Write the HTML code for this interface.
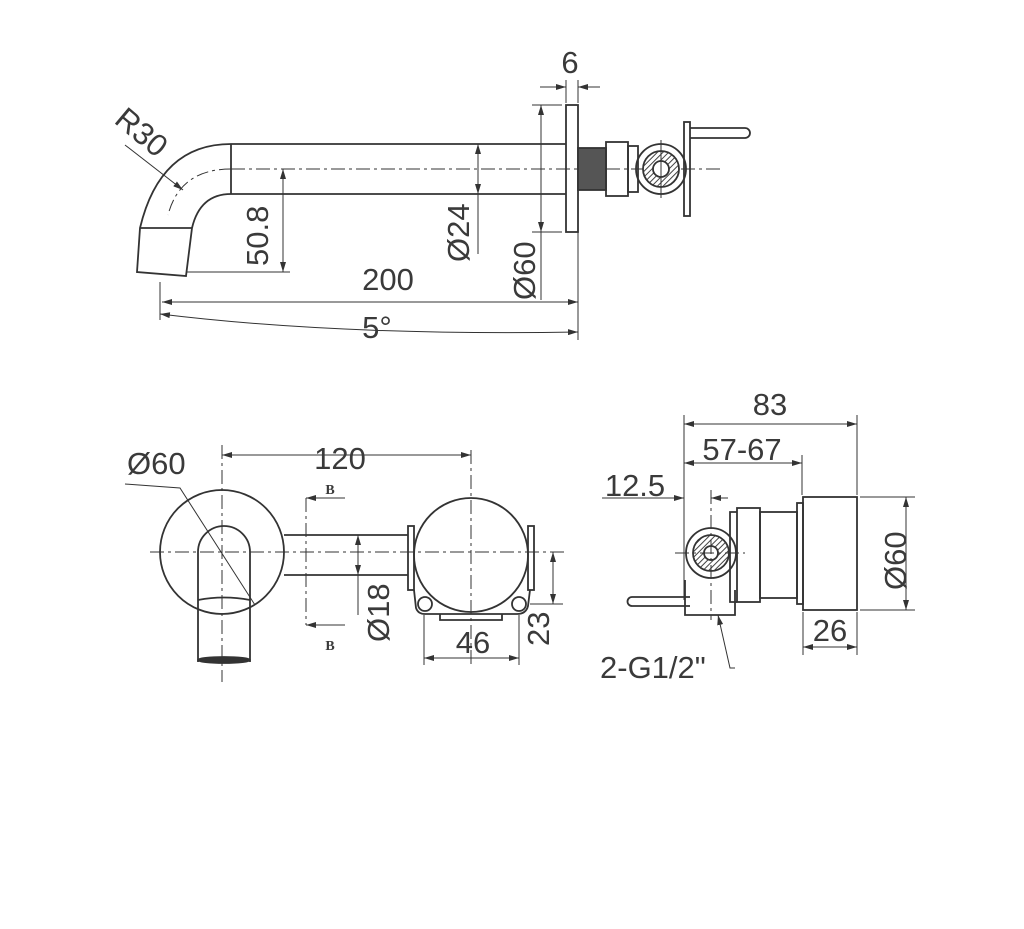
<!DOCTYPE html>
<html><head><style>html,body{margin:0;background:#fff}svg{display:block}text{font-family:"Liberation Sans",sans-serif;fill:#3a3a3a;font-size:31px}</style></head><body>
<svg width="1024" height="929" viewBox="0 0 1024 929" xmlns="http://www.w3.org/2000/svg">
<defs>
<marker id="a" viewBox="0 0 10 6" refX="10" refY="3" markerWidth="10" markerHeight="6" orient="auto-start-reverse" markerUnits="userSpaceOnUse"><path d="M0,0L10,3L0,6z" fill="#333"/></marker>
<pattern id="h" width="4" height="4" patternUnits="userSpaceOnUse" patternTransform="rotate(45)"><rect width="4" height="4" fill="#fff"/><line x1="0" y1="0" x2="0" y2="4" stroke="#444" stroke-width="2"/></pattern>
</defs>
<g fill="none" stroke="#333" stroke-width="1.8">
<path d="M566,144H231Q160,144 140,228L137,272L186,276L192,228Q200,194 231,194H566"/>
<line x1="231" y1="144" x2="231" y2="194"/>
<line x1="140" y1="228" x2="192" y2="228"/>
<path d="M231,169Q180,169 168,215" stroke-dasharray="12,4,3,4" stroke-width="1"/>
<line x1="231" y1="169" x2="720" y2="169" stroke-dasharray="14,4,3,4" stroke-width="1"/>
<rect x="566" y="105" width="12" height="127"/>
<rect x="578" y="148" width="28" height="42" fill="#555"/>
<rect x="606" y="142" width="22" height="54"/>
<rect x="628" y="146" width="10" height="46"/>
<circle cx="661" cy="169" r="25"/>
<circle cx="661" cy="169" r="18" fill="url(#h)"/>
<circle cx="661" cy="169" r="8" fill="#fff"/>
<line x1="661" y1="140" x2="661" y2="198" stroke-width="1"/>
<rect x="684" y="122" width="6" height="94"/>
<path d="M690,128H745A5,5 0 0 1 745,138H690"/>
<line x1="566" y1="80" x2="566" y2="103" stroke-width="1"/><line x1="578" y1="80" x2="578" y2="103" stroke-width="1"/>
<line x1="540" y1="87" x2="566" y2="87" marker-end="url(#a)" stroke-width="1"/><line x1="600" y1="87" x2="578" y2="87" marker-end="url(#a)" stroke-width="1"/>
<line x1="532" y1="105" x2="562" y2="105" stroke-width="1"/><line x1="532" y1="232" x2="562" y2="232" stroke-width="1"/>
<line x1="541" y1="105" x2="541" y2="300" stroke-width="1"/>
<line x1="541" y1="140" x2="541" y2="105" marker-end="url(#a)" stroke-width="1"/><line x1="541" y1="200" x2="541" y2="232" marker-end="url(#a)" stroke-width="1"/>
<line x1="478" y1="144" x2="478" y2="254" marker-start="url(#a)" stroke-width="1"/><line x1="478" y1="170" x2="478" y2="194" marker-end="url(#a)" stroke-width="1"/>
<line x1="283" y1="169" x2="283" y2="272" marker-start="url(#a)" marker-end="url(#a)" stroke-width="1"/>
<line x1="186" y1="272" x2="290" y2="272" stroke-width="1"/>
<line x1="578" y1="232" x2="578" y2="340" stroke-width="1"/>
<line x1="160" y1="282" x2="160" y2="320" stroke-width="1"/>
<line x1="162" y1="302" x2="578" y2="302" marker-start="url(#a)" marker-end="url(#a)" stroke-width="1"/>
<path d="M160,314Q340,336 578,332" marker-start="url(#a)" marker-end="url(#a)" stroke-width="1"/>
<line x1="125" y1="145" x2="183" y2="190" marker-end="url(#a)" stroke-width="1"/>
<circle cx="222" cy="552" r="62"/>
<path d="M198,662V552A26,26 0 0 1 250,552V662"/>
<ellipse cx="224" cy="660" rx="26" ry="3" fill="#333"/>
<path d="M198,600Q224,595 250,600"/>
<line x1="284" y1="535" x2="408" y2="535"/><line x1="284" y1="575" x2="408" y2="575"/>
<circle cx="471" cy="555" r="57"/>
<rect x="408" y="526" width="6" height="64"/><rect x="528" y="526" width="6" height="64"/>
<path d="M414,590L416,608Q418,614 425,614H517Q526,614 528,606L530,590"/>
<path d="M440,614V620H502V614"/>
<circle cx="425" cy="604" r="7"/><circle cx="519" cy="604" r="7"/>
<line x1="150" y1="552" x2="565" y2="552" stroke-dasharray="14,4,3,4" stroke-width="1"/>
<line x1="222" y1="445" x2="222" y2="682" stroke-dasharray="14,4,3,4" stroke-width="1"/>
<line x1="471" y1="450" x2="471" y2="665" stroke-dasharray="14,4,3,4" stroke-width="1"/>
<line x1="306" y1="498" x2="306" y2="625" stroke-dasharray="14,4,3,4" stroke-width="1"/>
<line x1="345" y1="498" x2="306" y2="498" marker-end="url(#a)" stroke-width="1"/><line x1="345" y1="625" x2="306" y2="625" marker-end="url(#a)" stroke-width="1"/>
<line x1="222" y1="455" x2="471" y2="455" marker-start="url(#a)" marker-end="url(#a)" stroke-width="1"/>
<path d="M125,484L180,488L255,605" stroke-width="1"/>
<line x1="358" y1="535" x2="358" y2="615" stroke-width="1"/>
<line x1="358" y1="560" x2="358" y2="535" marker-end="url(#a)" stroke-width="1"/><line x1="358" y1="555" x2="358" y2="575" marker-end="url(#a)" stroke-width="1"/>
<line x1="424" y1="615" x2="424" y2="665" stroke-width="1"/><line x1="519" y1="615" x2="519" y2="665" stroke-width="1"/>
<line x1="424" y1="658" x2="519" y2="658" marker-start="url(#a)" marker-end="url(#a)" stroke-width="1"/>
<line x1="530" y1="604" x2="563" y2="604" stroke-width="1"/>
<line x1="553" y1="552" x2="553" y2="604" marker-start="url(#a)" marker-end="url(#a)" stroke-width="1"/>
<rect x="803" y="497" width="54" height="113"/>
<rect x="797" y="503" width="6" height="101"/>
<rect x="760" y="512" width="37" height="86"/>
<rect x="737" y="508" width="23" height="94"/>
<path d="M737,512H730V602H737"/>
<path d="M685,580V615H735V590"/>
<circle cx="711" cy="553" r="25"/>
<circle cx="711" cy="553" r="18" fill="url(#h)"/>
<circle cx="711" cy="553" r="7" fill="#fff"/>
<line x1="675" y1="553" x2="745" y2="553" stroke-dasharray="14,4,3,4" stroke-width="1"/>
<line x1="711" y1="490" x2="711" y2="620" stroke-dasharray="14,4,3,4" stroke-width="1"/>
<path d="M690,597H632A4.5,4.5 0 0 0 632,606H690"/>
<line x1="684" y1="415" x2="684" y2="600" stroke-width="1"/><line x1="857" y1="415" x2="857" y2="495" stroke-width="1"/>
<line x1="802" y1="455" x2="802" y2="495" stroke-width="1"/>
<line x1="684" y1="424" x2="857" y2="424" marker-start="url(#a)" marker-end="url(#a)" stroke-width="1"/>
<line x1="684" y1="463" x2="802" y2="463" marker-start="url(#a)" marker-end="url(#a)" stroke-width="1"/>
<line x1="602" y1="498" x2="684" y2="498" marker-end="url(#a)" stroke-width="1"/>
<line x1="728" y1="498" x2="711" y2="498" marker-end="url(#a)" stroke-width="1"/>
<line x1="860" y1="497" x2="915" y2="497" stroke-width="1"/><line x1="860" y1="610" x2="915" y2="610" stroke-width="1"/>
<line x1="906" y1="497" x2="906" y2="610" marker-start="url(#a)" marker-end="url(#a)" stroke-width="1"/>
<line x1="803" y1="612" x2="803" y2="655" stroke-width="1"/><line x1="857" y1="612" x2="857" y2="655" stroke-width="1"/>
<line x1="803" y1="647" x2="857" y2="647" marker-start="url(#a)" marker-end="url(#a)" stroke-width="1"/>
<path d="M718,615L730,668H735" marker-start="url(#a)" stroke-width="1"/>
</g>
<text x="570" y="73" text-anchor="middle">6</text>
<text x="388" y="290" text-anchor="middle">200</text>
<text x="377" y="338" text-anchor="middle">5°</text>
<text transform="translate(113,122) rotate(40)">R30</text>
<text transform="translate(268,266) rotate(-90)">50.8</text>
<text transform="translate(469,262) rotate(-90)">Ø24</text>
<text transform="translate(535,300) rotate(-90)">Ø60</text>
<text x="127" y="474">Ø60</text>
<text x="340" y="469" text-anchor="middle">120</text>
<text x="330" y="494" text-anchor="middle" style="font-size:14px;font-family:'Liberation Serif',serif;font-weight:bold">B</text>
<text x="330" y="650" text-anchor="middle" style="font-size:14px;font-family:'Liberation Serif',serif;font-weight:bold">B</text>
<text transform="translate(389,642) rotate(-90)">Ø18</text>
<text x="473" y="653" text-anchor="middle">46</text>
<text transform="translate(549,646) rotate(-90)">23</text>
<text x="770" y="415" text-anchor="middle">83</text>
<text x="742" y="460" text-anchor="middle">57-67</text>
<text x="635" y="496" text-anchor="middle">12.5</text>
<text transform="translate(906,590) rotate(-90)">Ø60</text>
<text x="830" y="641" text-anchor="middle">26</text>
<text x="600" y="678">2-G1/2"</text>
</svg>
</body></html>
